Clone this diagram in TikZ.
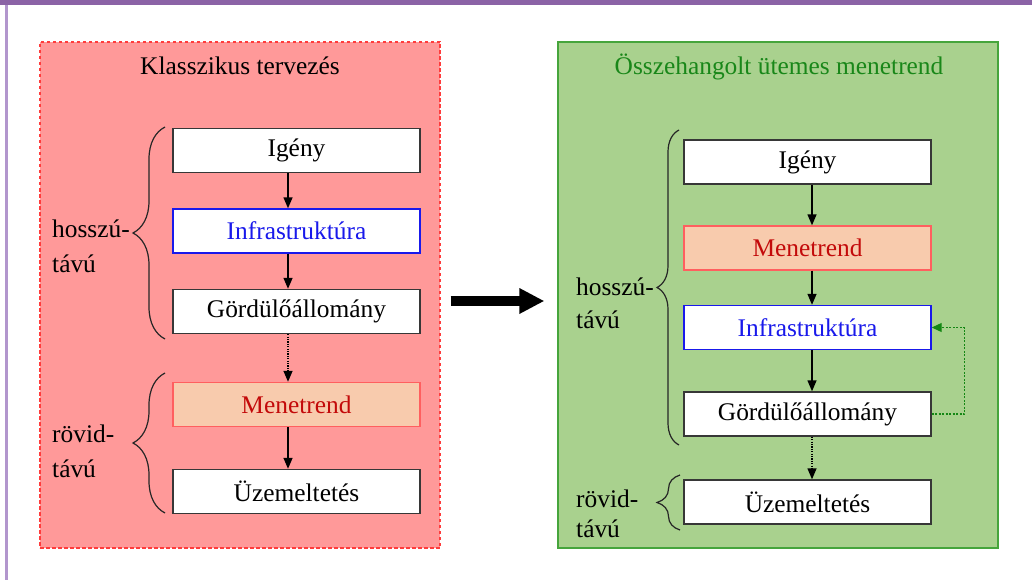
\documentclass[tikz,border=0pt]{standalone}
\usepackage{fontspec}
\setmainfont{Liberation Serif}
\usetikzlibrary{arrows.meta,decorations.pathreplacing}

\definecolor{bandpurple}{RGB}{139,99,166}
\definecolor{edgepurple}{RGB}{178,150,205}
\definecolor{panelred}{RGB}{255,153,153}
\definecolor{panelredline}{RGB}{255,60,60}
\definecolor{panelgreen}{RGB}{169,209,142}
\definecolor{panelgreenline}{RGB}{70,165,60}
\definecolor{titlegreen}{RGB}{25,135,25}
\definecolor{peach}{RGB}{248,203,173}
\definecolor{peachline}{RGB}{255,95,95}
\definecolor{darkred}{RGB}{195,10,10}
\definecolor{infoblue}{RGB}{25,25,235}
\definecolor{feedgreen}{RGB}{20,135,20}
\definecolor{boxline}{RGB}{55,55,55}

\newcommand\txtsize{\fontsize{25.4}{30}\selectfont}

\begin{document}
\begin{tikzpicture}[x=1pt,y=-1pt,
  every node/.style={font=\txtsize, inner sep=0pt},
  panelL/.style={draw=panelredline, fill=panelred, dashed, dash pattern=on 3.5pt off 2.5pt,
    line width=1.3pt, minimum width=400pt, minimum height=506pt},
  panelR/.style={draw=panelgreenline, fill=panelgreen, line width=1.3pt,
    minimum width=440pt, minimum height=506pt},
  stagebox/.style={draw=boxline, fill=white, line width=1.4pt,
    minimum width=247pt, minimum height=44pt},
  infrabox/.style={stagebox, draw=infoblue, text=infoblue},
  ttbox/.style={stagebox, draw=peachline, fill=peach, text=darkred},
  flow/.style={line width=1.4pt, -{Triangle[length=11pt,width=9pt]}},
  dotflow/.style={flow, dash pattern=on 1.2pt off 1.2pt},
  feedback/.style={draw=feedgreen, line width=1.1pt, dash pattern=on 2pt off 1.5pt,
    -{Triangle[length=10pt,width=9pt]}, color=feedgreen},
  curly/.style={decorate, line width=1.2pt, draw=black!85},
  bigarrow/.style={line width=10pt, -{Triangle[length=25pt,width=24pt]}},
  term/.style={anchor=base west}
]
\useasboundingbox (0,0) rectangle (1032,580);
\fill[white] (0,0) rectangle (1032,580);
\fill[bandpurple] (0,0) rectangle (1032,5);
\fill[edgepurple] (5,5) rectangle (7.5,580);

% Panels
\node[panelL] (lpanel) at (240,295) {};
\node[panelR] (rpanel) at (778,295) {};
\node[anchor=base] (ltitle) at (240,75) {Klasszikus tervezés};
\node[anchor=base, text=titlegreen] (rtitle) at (779,75) {Összehangolt ütemes menetrend};

% Classical planning chain
\node[stagebox] (ligeny)  at (296.5,150.5) {Igény};
\node[infrabox] (linfra)  at (296.5,231)   {Infrastruktúra};
\node[stagebox] (lgord)   at (296.5,311.5) {Gördülőállomány};
\node[ttbox]    (lmenet)  at (296.5,404.5) {Menetrend};
\node[stagebox] (luzem)   at (296.5,491.5) {Üzemeltetés};

\draw[flow]    ([xshift=-8.5pt]ligeny.south) -- ([xshift=-8.5pt]linfra.north);
\draw[flow]    ([xshift=-8.5pt]linfra.south) -- ([xshift=-8.5pt]lgord.north);
\draw[dotflow] ([xshift=-8.5pt]lgord.south)  -- ([xshift=-8.5pt]lmenet.north);
\draw[flow]    ([xshift=-8.5pt]lmenet.south) -- ([xshift=-8.5pt]luzem.north);

% Integrated timetable chain
\node[stagebox] (rigeny)  at (807.5,162)   {Igény};
\node[ttbox]    (rmenet)  at (807.5,248)   {Menetrend};
\node[infrabox] (rinfra)  at (807.5,327.5) {Infrastruktúra};
\node[stagebox] (rgord)   at (807.5,414)   {Gördülőállomány};
\node[stagebox] (ruzem)   at (807.5,502)   {Üzemeltetés};

\draw[flow]    ([xshift=4.5pt]rigeny.south) -- ([xshift=4.5pt]rmenet.north);
\draw[flow]    ([xshift=4.5pt]rmenet.south) -- ([xshift=4.5pt]rinfra.north);
\draw[flow]    ([xshift=4.5pt]rinfra.south) -- ([xshift=4.5pt]rgord.north);
\draw[dotflow] ([xshift=4.5pt]rgord.south)  -- ([xshift=4.5pt]ruzem.north);
\draw[feedback] (rgord.east) -- ++(33,0) |- (rinfra.east);

% Transition arrow
\draw[bigarrow, shorten <=10pt, shorten >=13pt]
  ([yshift=-6pt]lpanel.east) -- ([yshift=-6pt]rpanel.west);

% Braces and horizon labels, left
\coordinate (lbA) at (165,339);
\coordinate (lbB) at (165,127);
\coordinate (lbC) at (165,513);
\coordinate (lbD) at (165,373);
\draw[curly, decoration={brace, amplitude=32pt}] (lbA) -- (lbB);
\draw[curly, decoration={brace, amplitude=32pt}] (lbC) -- (lbD);
\node[term] (lh1) at (52,237) {hosszú-};
\node[term] (lh2) at (52,272) {távú};
\node[term] (lr1) at (52,442) {rövid-};
\node[term] (lr2) at (52,477) {távú};

% Braces and horizon labels, right
\coordinate (rbA) at (679,445);
\coordinate (rbB) at (679,130);
\coordinate (rbC) at (680,530);
\coordinate (rbD) at (680,475);
\draw[curly, decoration={brace, amplitude=22pt}] (rbA) -- (rbB);
\draw[curly, decoration={brace, amplitude=23pt}] (rbC) -- (rbD);
\node[term] (rh1) at (576,295) {hosszú-};
\node[term] (rh2) at (576,328) {távú};
\node[term] (rr1) at (576,507) {rövid-};
\node[term] (rr2) at (576,537) {távú};
\end{tikzpicture}
\end{document}
